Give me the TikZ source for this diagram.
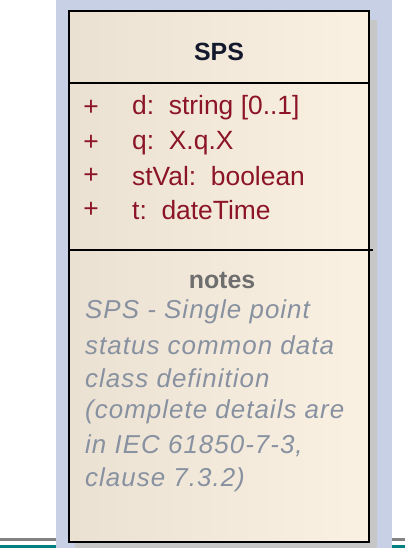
\documentclass[tikz,border=0pt]{standalone}
\usepackage{fontspec}
\setmainfont{Liberation Sans}
\newfontfamily\notefont[LetterSpace=4]{Liberation Sans}
\definecolor{panel}{RGB}{200,208,230}
\definecolor{boxleft}{RGB}{234,225,211}
\definecolor{boxright}{RGB}{251,241,227}
\definecolor{attrred}{RGB}{140,20,40}
\definecolor{notegray}{RGB}{135,145,160}
\definecolor{titlegray}{RGB}{110,110,110}
\definecolor{titleink}{RGB}{20,25,45}
\definecolor{rulegray}{RGB}{130,130,130}
\definecolor{ruleteal}{RGB}{0,128,128}
\tikzset{
  umlline/.style={draw=black,line width=1.6bp},
  attr/.style={anchor=west,inner sep=0pt,text=attrred,font=\fontsize{26.5}{30}\selectfont},
  plus/.style={anchor=center,inner sep=0pt,text=attrred,font=\fontsize{26.5}{30}\selectfont},
  noteline/.style={anchor=west,inner sep=0pt,text=notegray,font=\notefont\fontsize{26}{30}\selectfont\itshape},
}
\begin{document}
\begin{tikzpicture}[x=1bp,y=-1bp]
  \useasboundingbox (0,0) rectangle (405,548);
  % page background and diagram panel
  \fill[white] (0,0) rectangle (405,548);
  \fill[panel] (56,0) rectangle (392,548);
  % rules at the foot of the page
  \fill[rulegray] (0,537.5) rectangle (56,541);
  \fill[rulegray] (392,537.5) rectangle (405,541);
  \fill[ruleteal] (0,545) rectangle (56,547.5);
  \fill[ruleteal] (392,545) rectangle (405,547.5);
  % class box with shadow
  \fill[black!22] (75,20) rectangle (377,548);
  \shade[left color=boxleft,right color=boxright] (69,11) rectangle (369,542);
  \draw[umlline] (69,11) rectangle (369,542);
  \coordinate (hl) at (69,83);
  \coordinate (hr) at (369,83);
  \coordinate (al) at (69,250);
  \coordinate (ar) at (373,250);
  \draw[umlline] (hl) -- (hr);
  \draw[umlline] (al) -- (ar);
  % class name
  \node[text=titleink,font=\fontsize{25}{30}\selectfont\bfseries] (name) at (219,52) {SPS};
  % attributes
  \node[plus] (p1) at (91,108) {+};
  \node[plus] (p2) at (91,143) {+};
  \node[plus] (p3) at (91,176) {+};
  \node[plus] (p4) at (91,210) {+};
  \node[attr] (a1) at (132,108) {d:\ \ string [0..1]};
  \node[attr] (a2) at (132,143) {q:\ \ X.q.X};
  \node[attr] (a3) at (132,176) {stVal:\ \ boolean};
  \node[attr] (a4) at (132,210) {t:\ \ dateTime};
  % notes compartment
  \node[text=titlegray,font=\fontsize{25}{30}\selectfont\bfseries] (notes) at (222,280) {notes};
  \node[noteline] (n1) at (85,312) {SPS - Single point};
  \node[noteline] (n2) at (85,345) {status common data};
  \node[noteline] (n3) at (85,378) {class definition};
  \node[noteline] (n4) at (85,412) {(complete details are};
  \node[noteline] (n5) at (85,446) {in IEC 61850-7-3,};
  \node[noteline] (n6) at (85,480) {clause 7.3.2)};
\end{tikzpicture}
\end{document}
